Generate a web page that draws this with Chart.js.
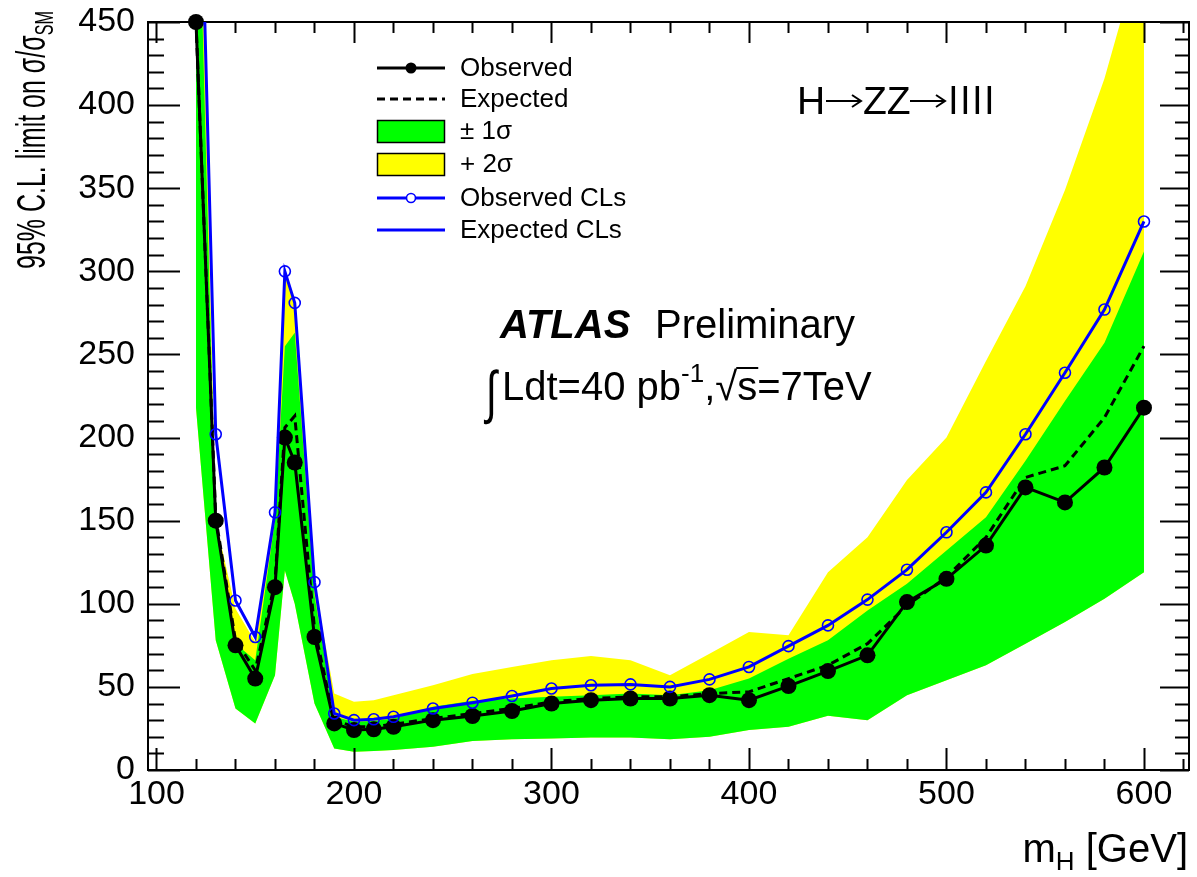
<!DOCTYPE html>
<html>
<head>
<meta charset="utf-8">
<script src="https://cdn.jsdelivr.net/npm/chart.js@4.4.1/dist/chart.umd.min.js"></script>
<style>
  html, body { margin: 0; padding: 0; background: #ffffff; }
  #wrap { width: 1197px; height: 877px; }
</style>
</head>
<body>
<div id="wrap"><canvas id="c" width="1197" height="877"></canvas></div>
<script>
// ---------------- data ----------------
const massPoints = [120,130,140,150,160,165,170,180,190,200,210,220,240,260,280,300,320,340,360,380,400,420,440,460,480,500,520,540,560,580,600];
const observedLimit = [450,150,75,55,110,200,185,80,28,24,24.5,26,30,32.5,35.5,40,42,43,43,45,42,50.5,59.5,69,101,115,135,170,161,182,218];
const expectedLimit = [450,152,78,60,113,206,213,85,30,26,26,27.5,31,34,37,41,43,44,44,46,47,55,63,76,99,116,140,176,183,212,255];
const observedCLs = [650,202,102,80,155,300,281,113,34,30,30.5,32,37,40.5,44.5,49,51,51.5,50,54.5,62,74.5,87,102.5,120.5,143,167,202,239,277,330];
const expectedCLs = [];
const band1Low  = [218,78,37,28,57,120,100,40,13,11,11.5,12,14,17.5,18.5,19,19.5,19.6,18.5,20,24,26,32.7,30,45,54,63,76,89,103,119];
const band1High = [600,148,76,66,150,255,263,105,32,29,29.5,31,38,41.7,43,44,45,46,45,48,55,67,78,96,112,132,152,186,222,257,312];
const band2High = [650,150,97,77,156,300,281,112,46,41,42,45,51,57.8,62,66,68.6,66,57,70,83,81,119,140,174.5,200,246,291,349,416,500];

const xTickValues = [100,200,300,400,500,600];
const yTickValues = [0,50,100,150,200,250,300,350,400,450];
const xMinorStep = 20;
const yMinorStep = 10;

const seriesLabels = ['Observed','Expected','\u00B1 1\u03C3','+ 2\u03C3','Observed CLs','Expected CLs'];

// ---------------- helpers ----------------
const FONT = '"Liberation Sans", Arial, Helvetica, sans-serif';
const GREEN = '#00ff00', YELLOW = '#ffff00', BLUE = '#0000ff';
const pts = (ys) => ys.map((y, i) => ({ x: massPoints[i], y: y }));

const datasets = [
  { label: 'band1Low', data: pts(band1Low), borderWidth: 0, pointRadius: 0, fill: false, order: 10, borderColor: 'rgba(0,0,0,0)' },
  { label: seriesLabels[3], data: pts(band2High), borderWidth: 0, pointRadius: 0, fill: { target: 0 }, backgroundColor: YELLOW, borderColor: 'rgba(0,0,0,0)', order: 9 },
  { label: seriesLabels[2], data: pts(band1High), borderWidth: 0, pointRadius: 0, fill: { target: 0 }, backgroundColor: GREEN, borderColor: 'rgba(0,0,0,0)', order: 8 },
  { label: seriesLabels[1], data: pts(expectedLimit), borderColor: '#000', borderWidth: 3, borderDash: [8, 5], pointRadius: 0, fill: false, order: 3 },
  { label: seriesLabels[0], data: pts(observedLimit), borderColor: '#000', borderWidth: 3, pointRadius: 8, pointBackgroundColor: '#000', pointBorderColor: '#000', pointBorderWidth: 0, fill: false, order: 2, clip: false },
  { label: seriesLabels[4], data: pts(observedCLs), borderColor: BLUE, borderWidth: 3, pointRadius: 5.5, pointStyle: 'circle', pointBackgroundColor: 'rgba(0,0,0,0)', pointBorderColor: BLUE, pointBorderWidth: 1.6, fill: false, order: 1 },
  { label: seriesLabels[5], data: pts(expectedCLs), borderColor: BLUE, borderWidth: 3, pointRadius: 0, fill: false, order: 0 }
];

// ---------------- frame + inward ticks (ROOT style) ----------------
const framePlugin = {
  id: 'frameTicks',
  beforeDatasetDraw(chart, args) {
    if (args.index !== 4) return;
    const ctx = chart.ctx, a = chart.chartArea;
    const xs = chart.scales.x, ys = chart.scales.y;
    ctx.save();
    ctx.strokeStyle = '#000';
    ctx.lineWidth = 2;
    ctx.strokeRect(a.left, a.top, a.right - a.left, a.bottom - a.top);
    ctx.beginPath();
    for (let v = xTickValues[0]; v <= xs.max + 1e-9; v += xMinorStep) {
      const px = Math.round(xs.getPixelForValue(v)) + 0.5;
      const major = xTickValues.includes(v);
      const lb = major ? 22 : 11, lt = major ? 21 : 11;
      ctx.moveTo(px, a.bottom); ctx.lineTo(px, a.bottom - lb);
      ctx.moveTo(px, a.top); ctx.lineTo(px, a.top + lt);
    }
    for (let v = 0; v <= ys.max + 1e-9; v += yMinorStep) {
      const py = Math.round(ys.getPixelForValue(v)) + 0.5;
      const major = yTickValues.includes(v);
      const ll = major ? 32 : 16, lr = major ? 29 : 14;
      ctx.moveTo(a.left, py); ctx.lineTo(a.left + ll, py);
      ctx.moveTo(a.right, py); ctx.lineTo(a.right - lr, py);
    }
    ctx.stroke();
    ctx.restore();
  }
};

function drawArrow(ctx, x0, x1, y) {
  ctx.save();
  ctx.strokeStyle = '#000';
  ctx.lineWidth = 2;
  ctx.beginPath();
  ctx.moveTo(x0, y); ctx.lineTo(x1, y);
  ctx.moveTo(x1 - 9, y - 6); ctx.lineTo(x1, y); ctx.lineTo(x1 - 9, y + 6);
  ctx.stroke();
  ctx.restore();
}

// ---------------- text, titles, legend ----------------
const textPlugin = {
  id: 'texts',
  afterDraw(chart) {
    const ctx = chart.ctx;
    ctx.save();
    ctx.fillStyle = '#000';
    ctx.textBaseline = 'alphabetic';

    // Y axis title (rotated, condensed)
    {
      const main = '95% C.L. limit on \u03C3/\u03C3';
      const sub = 'SM';
      ctx.font = '40px ' + FONT;
      const wMain = ctx.measureText(main).width;
      ctx.font = '26px ' + FONT;
      const wSub = ctx.measureText(sub).width;
      const target = 258;
      const sx = target / (wMain + wSub);
      ctx.save();
      ctx.translate(45, 269);
      ctx.rotate(-Math.PI / 2);
      ctx.scale(sx, 1);
      ctx.font = '40px ' + FONT;
      ctx.fillText(main, 0, 0);
      ctx.font = '26px ' + FONT;
      ctx.fillText(sub, wMain, 8);
      ctx.restore();
    }

    // X axis title  m_H [GeV]
    {
      const right = 1188, base = 862;
      ctx.font = '40px ' + FONT;
      const wTail = ctx.measureText(' [GeV]').width;
      const wM = ctx.measureText('m').width;
      ctx.font = '26px ' + FONT;
      const wH = ctx.measureText('H').width;
      let x = right - wTail - wH - wM;
      ctx.font = '40px ' + FONT;
      ctx.fillText('m', x, base); x += wM;
      ctx.font = '26px ' + FONT;
      ctx.fillText('H', x, base + 8); x += wH;
      ctx.font = '40px ' + FONT;
      ctx.fillText(' [GeV]', x, base);
    }

    // H -> ZZ -> llll
    {
      const base = 114;
      ctx.font = '39px ' + FONT;
      ctx.fillText('H', 797, base);
      drawArrow(ctx, 826, 861, 101);
      ctx.fillText('ZZ', 863, base);
      drawArrow(ctx, 910, 945, 101);
      for (let i = 0; i < 4; i++) ctx.fillText('l', 949 + i * 12, base);
    }

    // ATLAS Preliminary
    ctx.font = 'italic bold 40px ' + FONT;
    ctx.fillText('ATLAS', 500, 338);
    ctx.font = '40px ' + FONT;
    ctx.fillText('Preliminary', 655, 338);

    // ∫Ldt=40 pb^-1, √s=7TeV
    {
      let x = 486; const base = 400;
      ctx.save();
      ctx.font = '40px ' + FONT;
      ctx.translate(x, base + 12);
      ctx.scale(1, 1.45);
      ctx.fillText('\u222B', 0, 0);
      ctx.restore();
      x += 16;
      ctx.font = '40px ' + FONT;
      ctx.fillText('Ldt=40 pb', x, base); x += ctx.measureText('Ldt=40 pb').width;
      ctx.font = '26px ' + FONT;
      ctx.fillText('-1', x, base - 18); x += ctx.measureText('-1').width;
      ctx.font = '40px ' + FONT;
      ctx.fillText(',', x, base); x += ctx.measureText(',').width;
      ctx.fillText('\u221A', x, base); x += ctx.measureText('\u221A').width;
      const sw = ctx.measureText('s').width;
      ctx.beginPath();
      ctx.lineWidth = 2;
      ctx.moveTo(x - 1, base - 32); ctx.lineTo(x + sw + 1, base - 32);
      ctx.stroke();
      ctx.fillText('s=7TeV', x, base);
    }

    // Legend
    {
      const rowsY = [68, 99, 131, 164, 198, 230];
      const x0 = 377, x1 = 445, xm = 411, tx = 460;
      ctx.font = '26px ' + FONT;
      ctx.textBaseline = 'middle';
      const ds = chart.data.datasets;
      const legendOrder = [4, 3, 2, 1, 5, 6];
      legendOrder.forEach((di, r) => {
        const d = ds[di];
        const y = rowsY[r];
        ctx.save();
        if (di === 2 || di === 1) {
          ctx.fillStyle = d.backgroundColor;
          ctx.fillRect(x0, y - 11, x1 - x0, 23);
          ctx.strokeStyle = '#000'; ctx.lineWidth = 1.5;
          ctx.strokeRect(x0 + 0.5, y - 11 + 0.5, x1 - x0 - 1, 22);
        } else {
          ctx.strokeStyle = d.borderColor;
          ctx.lineWidth = d.borderWidth;
          ctx.setLineDash(d.borderDash || []);
          ctx.beginPath(); ctx.moveTo(x0, y); ctx.lineTo(x1, y); ctx.stroke();
          ctx.setLineDash([]);
          if (di === 4) {
            ctx.fillStyle = '#000';
            ctx.beginPath(); ctx.arc(xm, y, 5.5, 0, Math.PI * 2); ctx.fill();
          } else if (di === 5) {
            ctx.fillStyle = '#fff';
            ctx.beginPath(); ctx.arc(xm, y, 4.5, 0, Math.PI * 2); ctx.fill();
            ctx.lineWidth = 1.6; ctx.strokeStyle = BLUE; ctx.stroke();
          }
        }
        ctx.restore();
        ctx.fillStyle = '#000';
        ctx.fillText(d.label, tx, y + 1);
      });
    }
    ctx.restore();
  }
};

new Chart(document.getElementById('c'), {
  type: 'line',
  data: { datasets: datasets },
  options: {
    responsive: false,
    animation: false,
    devicePixelRatio: 1,
    events: [],
    layout: { padding: { left: 0, top: 22, right: 8, bottom: 0 } },
    plugins: {
      legend: { display: false },
      tooltip: { enabled: false },
      filler: { propagate: false }
    },
    elements: { line: { tension: 0 } },
    scales: {
      x: {
        type: 'linear', min: 95.7, max: 622.8,
        grid: { display: false, drawTicks: false },
        border: { display: false },
        ticks: { font: { size: 34, family: FONT }, color: '#000', padding: 4, maxRotation: 0, autoSkip: false,
                 callback: (v) => String(v) },
        afterBuildTicks: (s) => { s.ticks = xTickValues.map(v => ({ value: v })); },
        afterFit: (s) => { s.height = 107; s.paddingLeft = 0; s.paddingRight = 0; }
      },
      y: {
        type: 'linear', min: 0, max: 450,
        grid: { display: false, drawTicks: false },
        border: { display: false },
        ticks: { font: { size: 34, family: FONT }, color: '#000', padding: 13, autoSkip: false,
                 callback: (v) => String(v) },
        afterBuildTicks: (s) => { s.ticks = yTickValues.map(v => ({ value: v })); },
        afterFit: (s) => { s.width = 148; s.paddingTop = 0; s.paddingBottom = 0; }
      }
    }
  },
  plugins: [framePlugin, textPlugin]
});
</script>
</body>
</html>
